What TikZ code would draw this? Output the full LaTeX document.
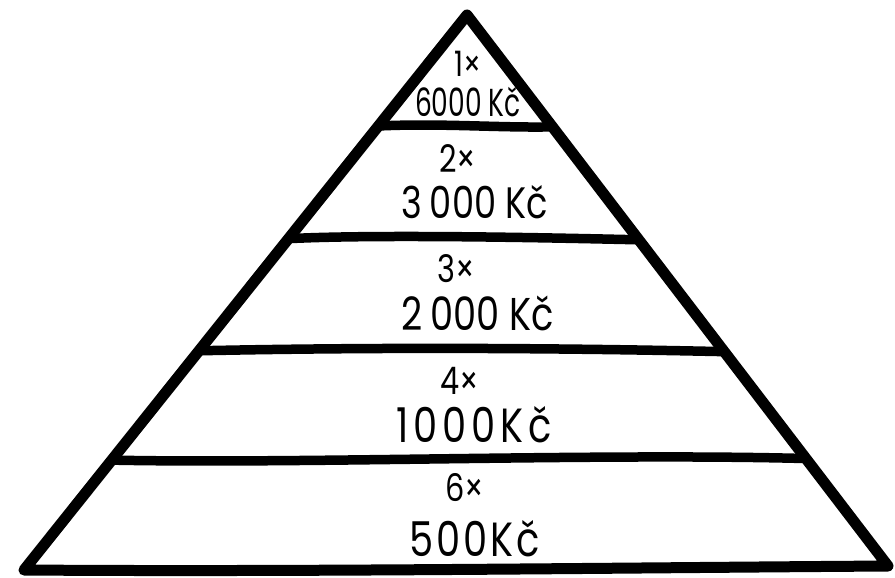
\documentclass[tikz,border=0pt]{standalone}
\usepackage{fontspec}
\setmainfont[FakeStretch=0.8]{Poppins}
\usetikzlibrary{calc}
\tikzset{
  edge/.style={line width=11pt, line join=round, line cap=round},
  tier/.style={line width=9.5pt, line cap=round},
  cnt/.style={inner sep=0pt, anchor=base, font=\fontsize{38}{38}\selectfont},
  amt/.style={inner sep=0pt, anchor=base, font=\fontsize{48}{48}\selectfont},
  amttop/.style={inner sep=0pt, anchor=base, font=\fontsize{39}{39}\selectfont\addfontfeature{FakeStretch=0.68}}
}
\begin{document}
\begin{tikzpicture}[x=1pt,y=-1pt]
  \useasboundingbox (0,0) rectangle (895,578);
  \coordinate (apex) at (467,15);
  \coordinate (bl) at (24,570);
  \coordinate (br) at (888,566);
  % outline
  \draw[edge] (bl) -- (apex) -- (br) .. controls (600,568) and (300,572) .. (bl);
  % tier lines
  \draw[tier] ($(apex)!0.200!(bl)$) .. controls (440,123) and (500,128) .. ($(apex)!0.203!(br)$);
  \draw[tier] ($(apex)!0.403!(bl)$) .. controls (380,234) and (560,238) .. ($(apex)!0.408!(br)$);
  \draw[tier] ($(apex)!0.605!(bl)$) .. controls (380,347) and (560,348) .. ($(apex)!0.611!(br)$);
  \draw[tier] ($(apex)!0.802!(bl)$) .. controls (300,464) and (600,453) .. ($(apex)!0.805!(br)$);
  % labels
  \node[cnt, font=\fontsize{35}{35}\selectfont] (c1) at (468,77) {1×};
  \node[amttop] (a1) at (468,117) {6000 Kč};
  \node[cnt] (c2) at (458,172) {2×};
  \node[amt, font=\fontsize{44}{44}\selectfont] (a2) at (475,218) {3\,000 Kč};
  \node[cnt] (c3) at (456,282) {3×};
  \node[amt, font=\fontsize{46}{46}\selectfont] (a3) at (478,330) {2\,000 Kč};
  \node[cnt] (c4) at (460,394) {4×};
  \node[amt, font=\fontsize{48}{48}\selectfont\addfontfeature{LetterSpace=10}] (a4) at (474,442) {1000Kč};
  \node[cnt] (c5) at (465,501) {6×};
  \node[amt, font=\fontsize{48}{48}\selectfont\addfontfeature{LetterSpace=6}] (a5) at (475,556) {500Kč};
\end{tikzpicture}
\end{document}
